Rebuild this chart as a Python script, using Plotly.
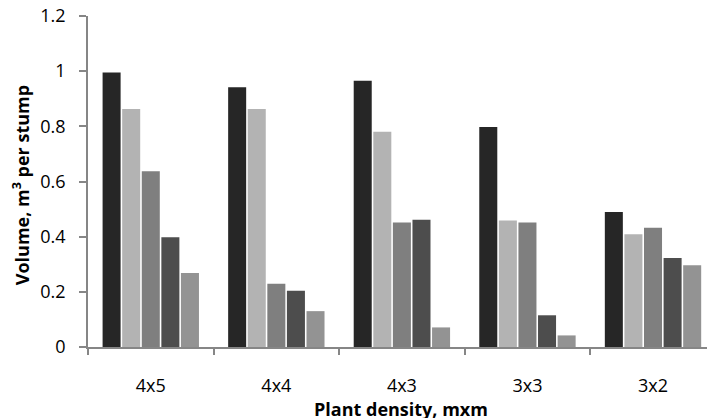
import plotly.graph_objects as go

categories = ["4x5", "4x4", "4x3", "3x3", "3x2"]
series_names = ["S1", "S2", "S3", "S4", "S5"]
s1 = [0.995, 0.942, 0.965, 0.798, 0.489]
s2 = [0.863, 0.863, 0.780, 0.459, 0.409]
s3 = [0.637, 0.229, 0.451, 0.451, 0.432]
s4 = [0.398, 0.204, 0.461, 0.115, 0.323]
s5 = [0.268, 0.130, 0.071, 0.042, 0.296]
series_values = [s1, s2, s3, s4, s5]
colors = ["#262626", "#b3b3b3", "#7f7f7f", "#4d4d4d", "#939393"]
y_ticks = [0, 0.2, 0.4, 0.6, 0.8, 1, 1.2]
y_tick_labels = ["0", "0.2", "0.4", "0.6", "0.8", "1", "1.2"]

fig = go.Figure()
for name, vals, col in zip(series_names, series_values, colors):
    fig.add_trace(go.Bar(x=categories, y=vals, name=name,
                         marker=dict(color=col, line=dict(width=0))))

FONT = "Open Sans"
fig.update_layout(
    width=707, height=418,
    margin=dict(l=88, r=0, t=16, b=70.5, autoexpand=False),
    paper_bgcolor="white", plot_bgcolor="white",
    barmode="group", bargap=0.22, bargroupgap=0.08,
    showlegend=False,
    font=dict(family=FONT, size=18, color="#000000"),
    xaxis=dict(type="category", range=[-0.5, 4.43], showgrid=False, automargin=False,
               showline=True, linecolor="#868686", linewidth=1.5,
               ticks="outside", ticklen=6, tickcolor="#868686", tickwidth=1.5,
               tickson="boundaries", ticklabelstandoff=22,
               tickfont=dict(family=FONT, size=18)),
    yaxis=dict(range=[0, 1.2], tickvals=y_ticks, ticktext=y_tick_labels,
               showgrid=False, zeroline=False, automargin=False,
               showline=True, linecolor="#868686", linewidth=1.5,
               ticks="outside", ticklen=7, tickcolor="#868686", tickwidth=1.5,
               ticklabelstandoff=10,
               tickfont=dict(family=FONT, size=18)),
)

fig.add_annotation(text="<b>Plant density, mxm</b>", xref="paper", yref="paper",
                   x=0.506, y=-0.187, xanchor="center", yanchor="middle",
                   showarrow=False, font=dict(family=FONT, size=18))
fig.add_annotation(text="<b>Volume, m<sup>3</sup> per stump</b>", xref="paper", yref="paper",
                   x=-0.108, y=0.489, xanchor="center", yanchor="middle", textangle=-90,
                   showarrow=False, font=dict(family=FONT, size=18))

fig.write_html("out.html", config={"displayModeBar": False},
               post_script="document.body.style.margin='0';")
